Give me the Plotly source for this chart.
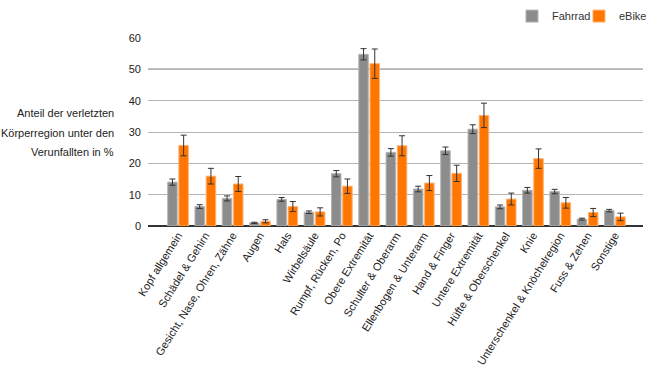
import plotly.graph_objects as go

categories = ["Kopf allgemein", "Schädel & Gehirn", "Gesicht, Nase, Ohren, Zähne", "Augen", "Hals",
              "Wirbelsäule", "Rumpf, Rücken, Po", "Obere Extremität", "Schulter & Oberarm",
              "Ellenbogen & Unterarm", "Hand & Finger", "Untere Extremität", "Hüfte & Oberschenkel",
              "Knie", "Unterschenkel & Knöchelregion", "Fuss & Zehen", "Sonstige"]
fahrrad = [14.0, 6.2, 8.8, 1.0, 8.5, 4.4, 16.7, 54.8, 23.5, 11.8, 24.0, 30.9, 6.1, 11.4, 11.0, 2.2, 4.9]
fahrrad_err = [1.0, 0.6, 0.8, 0.2, 0.6, 0.4, 1.0, 1.8, 1.2, 0.9, 1.2, 1.4, 0.6, 0.9, 0.7, 0.3, 0.4]
ebike = [25.7, 15.9, 13.4, 1.5, 6.2, 4.5, 12.7, 51.8, 25.6, 13.7, 16.8, 35.3, 8.6, 21.5, 7.4, 4.3, 2.9]
ebike_err = [3.3, 2.5, 2.4, 0.5, 1.6, 1.3, 2.3, 4.7, 3.2, 2.4, 2.6, 3.9, 1.9, 3.1, 1.7, 1.3, 1.2]
y_ticks = [0, 10, 20, 30, 40, 50, 60]

FONT = "Liberation Sans, Arial, sans-serif"
fig = go.Figure()
fig.add_trace(go.Bar(
    name="Fahrrad", x=categories, y=fahrrad,
    marker=dict(color="#8c8c8c", line=dict(color="#b4b4b4", width=1)),
    error_y=dict(type="data", array=fahrrad_err, color="#333333", thickness=1, width=3),
))
fig.add_trace(go.Bar(
    name="eBike", x=categories, y=ebike,
    marker=dict(color="#ff7700", line=dict(color="#ffb070", width=1)),
    error_y=dict(type="data", array=ebike_err, color="#333333", thickness=1, width=3),
))

fig.update_layout(
    width=650, height=366,
    margin=dict(l=148, r=7, t=38, b=140, autoexpand=False),
    paper_bgcolor="white", plot_bgcolor="white",
    font=dict(family=FONT, size=11, color="#222222"),
    barmode="group", bargap=0.18, bargroupgap=0.15,
    showlegend=True,
    legend=dict(orientation="h", xref="container", yref="container",
                x=0.9938, xanchor="right", y=0.956, yanchor="middle",
                entrywidth=22, entrywidthmode="pixels",
                font=dict(size=11, color="#333333"), traceorder="normal"),
    xaxis=dict(type="category", range=[-1.1, 17.03], tickangle=-58, showgrid=False,
               showline=False, ticks="", tickfont=dict(size=11)),
    yaxis=dict(range=[0, 60], tickvals=y_ticks, showgrid=True, gridcolor="#b5b5b5", gridwidth=1,
               zeroline=True, zerolinecolor="#333333", zerolinewidth=1.5,
               ticks="", ticklabelstandoff=6, tickfont=dict(size=11)),
    shapes=[dict(type="line", xref="paper", x0=0, x1=1, yref="y", y0=50, y1=50,
                 line=dict(color="#8a8a8a", width=1.5), layer="below")],
)

title_lines = ["Anteil der verletzten", "Körperregion unter den", "Verunfallten in %"]
for i, t in enumerate(title_lines):
    fig.add_annotation(text=t, xref="paper", yref="paper", x=-0.064, y=0.60 - i * 0.104,
                       xanchor="right", yanchor="middle", showarrow=False, align="right",
                       font=dict(size=11, color="#222222"))

fig.write_html("out.html", config={"displayModeBar": False},
               post_script="document.body.style.margin='0';document.body.style.overflow='hidden';")
